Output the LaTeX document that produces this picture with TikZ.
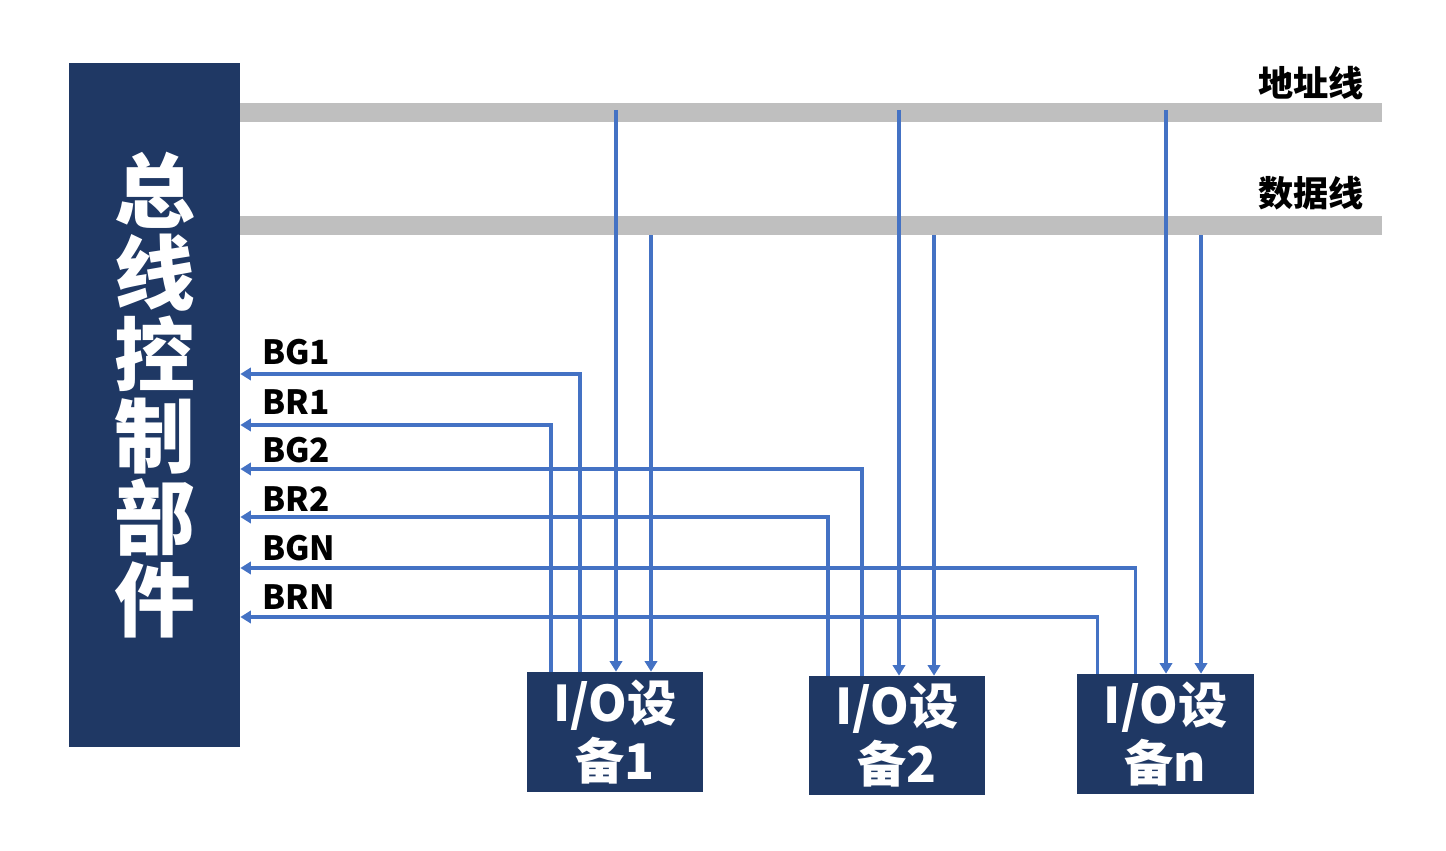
\documentclass[tikz,border=0pt]{standalone}
\usepackage{fontspec}
\setmainfont{Noto Sans CJK SC}
\usetikzlibrary{positioning,arrows.meta,calc}
\definecolor{navy}{HTML}{1F3864}
\definecolor{wire}{HTML}{4472C4}
\definecolor{busgray}{HTML}{BFBFBF}
\begin{document}
\begin{tikzpicture}[
  x=0.02cm, y=-0.02cm,
  font=\bfseries,
  ctrlbox/.style={fill=navy, inner sep=0pt, minimum width=3.42cm, minimum height=13.68cm},
  devbox/.style={fill=navy, text=white, inner sep=0pt, minimum width=3.52cm, minimum height=2.4cm, align=center,
    font=\bfseries\fontsize{28pt}{33pt}\selectfont},
  bar/.style={fill=busgray, inner sep=0pt, minimum width=22.84cm, minimum height=0.38cm},
  sig/.style={anchor=west, font=\bfseries\fontsize{19pt}{22pt}\selectfont},
  buslab/.style={font=\bfseries\fontsize{20pt}{22pt}\selectfont},
  arr/.style={-{Triangle[length=6pt,width=7pt]}, wire, line width=2pt}
]
\useasboundingbox (0,0) rectangle (1446,851);
\node[ctrlbox] (ctrl) at (154.5,405) {};
\node[text=white, align=center, font=\bfseries\fontsize{46pt}{46.5pt}\selectfont] (ctrltxt) at (154.5,395) {总\\线\\控\\制\\部\\件};
\node[bar] (abus) at (811,112.5) {};
\node[bar] (dbus) at (811,225.5) {};
\node[buslab] (alab) at (1311,83) {地址线};
\node[buslab] (dlab) at (1311,193) {数据线};
\node[devbox] (dev1) at (615,732) {I/O设\\备1};
\node[devbox, minimum height=2.38cm] (dev2) at (897,735.5) {I/O设\\备2};
\node[devbox, minimum width=3.54cm] (devn) at (1165.5,734) {I/O设\\备n};
% request / grant lines
\foreach \dv/\g/\r/\yg/\yr/\k in {dev1/-35/-64/374/425/1, dev2/-35/-69/469/517/2, devn/-30/-68/568/617/N} {
  \draw[arr] ($(\dv.north)+(\g,0)$) |- (ctrl.east |- 0,\yg);
  \draw[arr] ($(\dv.north)+(\r,0)$) |- (ctrl.east |- 0,\yr);
}
\foreach \t/\yl in {BG1/352, BR1/402, BG2/450, BR2/499, BGN/548, BRN/597}
  \node[sig] (lab\t) at (256,\yl) {\t};
% address and data drops
\foreach \dv/\a in {dev1/1, dev2/2, devn/0.5} {
  \draw[arr] ($(\dv.north |- abus.center)+(\a,-2.5)$) -- ($(\dv.north)+(\a,0)$);
  \draw[arr] ($(\dv.north |- dbus.south)+(\a+35,0)$) -- ($(\dv.north)+(\a+35,0)$);
}
\end{tikzpicture}
\end{document}
